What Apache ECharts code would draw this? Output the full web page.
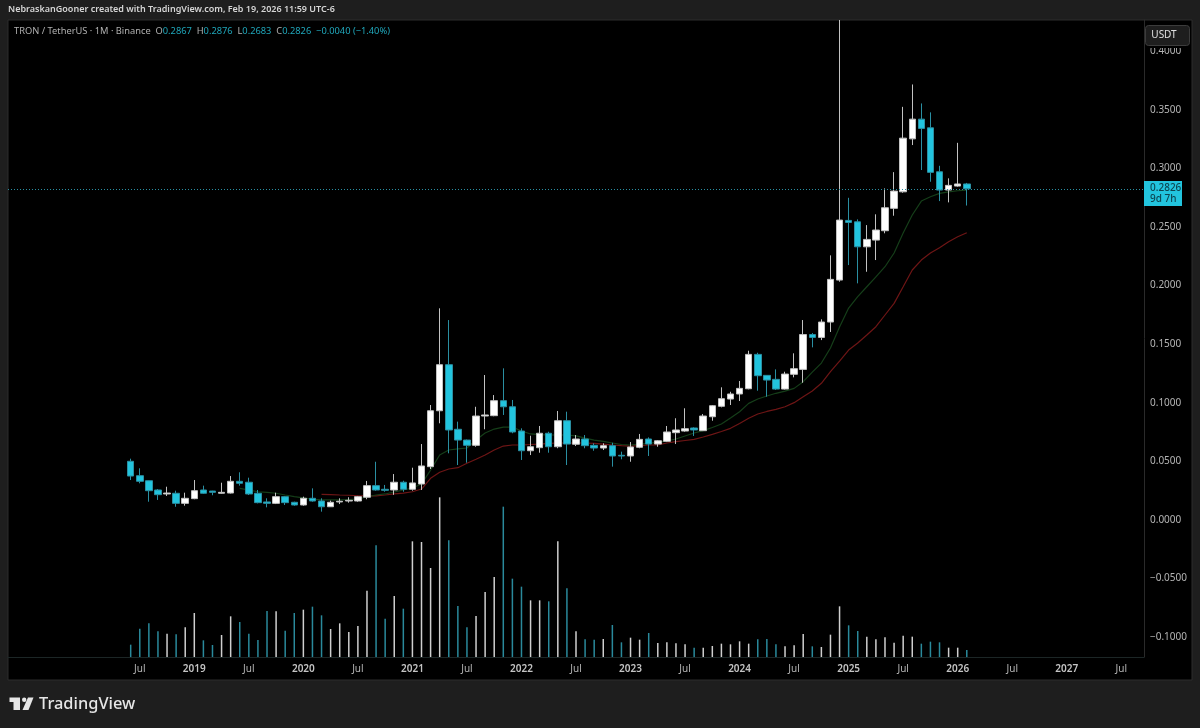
<!DOCTYPE html>
<html lang="en">
<head>
<meta charset="UTF-8">
<title>TRON / TetherUS 1M</title>
<style>
    * { margin: 0; padding: 0; }
    body { background: #1e1e1e; }
    #chart { width: 1200px; height: 728px; }
</style>
</head>
<body>
<div id="chart"></div>
<script src="https://cdn.jsdelivr.net/npm/echarts@6/dist/echarts.min.js"></script>
<script>
// monthly bars from Jun 2018 to Feb 2026: [open, close, low, high]
// the Dec 2024 high runs off the top of the pane, so it is read at the pane edge
const candles = [
    [.0501,.0375,.0341,.0523],[.0378,.0330,.0313,.0441],[.0335,.0250,.0156,.0337],[.0256,.0216,.0171,.0264],
    [.0222,.0230,.0205,.0284],[.0228,.0142,.0113,.0250],[.0142,.0185,.0122,.0233],[.0182,.0250,.0177,.0341],
    [.0256,.0228,.0222,.0293],[.0247,.0236,.0211,.0249],[.0228,.0236,.0224,.0318],[.0230,.0330,.0226,.0375],
    [.0330,.0313,.0293,.0407],[.0322,.0222,.0213,.0361],[.0228,.0148,.0142,.0256],[.0154,.0142,.0108,.0185],
    [.0142,.0199,.0136,.0233],[.0199,.0148,.0128,.0205],[.0151,.0128,.0122,.0156],[.0128,.0185,.0122,.0199],
    [.0185,.0162,.0156,.0270],[.0162,.0113,.0071,.0185],[.0113,.0151,.0111,.0165],[.0154,.0160,.0136,.0185],
    [.0162,.0168,.0148,.0194],[.0162,.0199,.0156,.0205],[.0194,.0293,.0177,.0333],[.0293,.0256,.0250,.0497],
    [.0262,.0253,.0241,.0299],[.0256,.0322,.0215,.0392],[.0322,.0262,.0241,.0335],[.0262,.0316,.0250,.0446],
    [.0307,.0461,.0256,.0648],[.0455,.0932,.0435,.0981],[.0932,.1325,.0825,.1806],[.1325,.0768,.0569,.1706],
    [.0774,.0682,.0469,.0839],[.0682,.0637,.0489,.0686],[.0637,.0887,.0625,.0966],[.0887,.0896,.0774,.1237],
    [.0890,.1018,.0885,.1066],[.1018,.0966,.0896,.1294],[.0966,.0751,.0740,.1024],[.0759,.0591,.0512,.0782],
    [.0591,.0625,.0554,.0719],[.0617,.0740,.0574,.0802],[.0740,.0625,.0574,.0753],[.0625,.0847,.0612,.0930],
    [.0847,.0648,.0469,.0924],[.0646,.0691,.0631,.0725],[.0691,.0634,.0612,.0725],[.0637,.0614,.0591,.0654],
    [.0614,.0634,.0597,.0654],[.0634,.0546,.0455,.0659],[.0552,.0546,.0518,.0583],[.0546,.0623,.0497,.0665],
    [.0620,.0688,.0612,.0734],[.0691,.0648,.0546,.0705],[.0648,.0676,.0625,.0682],[.0671,.0751,.0665,.0802],
    [.0745,.0768,.0648,.0868],[.0759,.0779,.0753,.0953],[.0785,.0768,.0717,.0791],[.0762,.0887,.0759,.0904],
    [.0881,.0975,.0847,.0981],[.0970,.1035,.0961,.1132],[.1032,.1075,.0981,.1094],[.1075,.1123,.1015,.1186],
    [.1120,.1413,.1115,.1444],[.1413,.1231,.1103,.1427],[.1234,.1194,.1052,.1237],[.1200,.1117,.1109,.1285],
    [.1117,.1245,.1113,.1265],[.1243,.1291,.1217,.1422],[.1285,.1582,.1171,.1706],[.1582,.1558,.1473,.1595],
    [.1558,.1689,.1535,.1712],[.1689,.2053,.1604,.2258],[.2047,.2559,.2033,.4266],[.2556,.2539,.2175,.2749],
    [.2544,.2331,.2019,.2565],[.2331,.2394,.2118,.2516],[.2388,.2474,.2218,.2608],[.2468,.2664,.2446,.2829],
    [.2659,.2806,.2596,.2968],[.2800,.3258,.2792,.3525],[.3252,.3420,.3199,.3716],[.3420,.3341,.2986,.3554],
    [.3346,.2966,.2886,.3478],[.2971,.2815,.2721,.3022],[.2815,.2855,.2710,.2915],[.2849,.2867,.2843,.3218],
    [.2867,.2826,.2683,.2876]
];

// relative volume per month, same order as candles
const volumes = [
    37,85,101,77,70,68,89,132,50,36,66,122,105,70,51,138,137,79,132,142,151,125,84,101,75,93,199,335,115,183,
    145,347,345,267,479,350,153,89,123,195,240,451,235,211,170,170,167,347,206,77,53,52,54,96,44,58,52,72,42,44,
    41,38,28,28,33,40,38,47,40,53,54,38,32,35,69,32,30,67,152,95,78,61,53,59,43,64,61,40,46,44,28,28,21
];

// moving averages, they begin later than the first candle
const maFastStart = 12;
const maFast = [
    .0270,.0256,.0241,.0235,.0228,.0213,.0199,.0188,.0177,.0171,.0171,.0171,.0175,.0179,.0196,.0213,.0222,.0239,.0256,.0273,
    .0307,.0426,.0554,.0597,.0606,.0614,.0682,.0742,.0776,.0793,.0793,.0759,.0734,.0729,.0725,.0725,.0725,.0717,.0699,.0682,
    .0670,.0657,.0644,.0640,.0648,.0653,.0665,.0674,.0691,.0717,.0742,.0762,.0789,.0819,.0870,.0924,.0995,.1032,.1058,.1081,
    .1100,.1123,.1180,.1262,.1339,.1467,.1646,.1808,.1905,.1990,.2075,.2161,.2278,.2448,.2602,.2721,.2758,.2787,.2800,.2809,.2815
];
const maSlowStart = 21;
const maSlow = [
    .0219,.0217,.0213,.0211,.0207,.0205,.0205,.0213,.0222,.0230,.0241,.0264,.0356,.0407,.0435,.0446,.0484,.0518,.0554,.0597,
    .0631,.0640,.0640,.0644,.0648,.0653,.0657,.0657,.0657,.0657,.0653,.0648,.0640,.0634,.0631,.0635,.0640,.0640,.0657,.0668,
    .0678,.0688,.0708,.0731,.0755,.0782,.0823,.0868,.0904,.0926,.0944,.0966,.1001,.1052,.1100,.1166,.1265,.1356,.1450,.1510,
    .1578,.1649,.1749,.1848,.1990,.2133,.2218,.2278,.2323,.2374,.2417,.2451
];

const priceTicks = [-0.1, -0.05, 0, 0.05, 0.1, 0.15, 0.2, 0.25, 0.3, 0.35, 0.4];
const lastPrice = 0.2826;

// time axis runs May 2017 to Sep 2027, the candles start at Jun 2018
const firstCandleIndex = 13;
const monthNames = [];
for (let y = 2017; y <= 2027; y++) {
    for (let m = 1; m <= 12; m++) {
        if ((y === 2017 && m < 5) || (y === 2027 && m > 9)) continue;
        monthNames.push(y + '-' + (m < 10 ? '0' + m : m));
    }
}

const upColor = '#ffffff';
const downColor = '#22c4de';
const upWick = '#c2c2c2';
const downWick = '#2a8fa2';
const pad = (n) => new Array(n).fill(null);

const candleData = candles.map((c, i) => [i + firstCandleIndex, c[0], c[1], c[2], c[3]]);
const volumeData = pad(firstCandleIndex).concat(volumes.map((v, i) => ({
    value: v,
    itemStyle: { color: candles[i][1] >= candles[i][0] ? '#cfcfcf' : '#2a8a9c' }
})));

const gridBox = { left: 8, right: 56, top: 20, bottom: 71 };
const font = '"Noto Sans", sans-serif';

const myChart = echarts.init(document.getElementById('chart'));
myChart.setOption({
    animation: false,
    backgroundColor: '#1e1e1e',
    grid: gridBox,
    xAxis: {
        type: 'category',
        data: monthNames,
        boundaryGap: true,
        axisLine: { onZero: false, lineStyle: { color: '#1c2626', width: 1 } },
        axisTick: { show: false },
        splitLine: { show: false },
        axisLabel: {
            color: '#b4b4b4',
            fontFamily: font,
            fontSize: 10,
            margin: 7,
            interval: (idx, name) => idx > firstCandleIndex && /-(01|07)$/.test(name),
            formatter: (name) => name.endsWith('-07') ? 'Jul' : '{year|' + name.slice(0, 4) + '}',
            rich: { year: { color: '#c4c4c4', fontFamily: font, fontSize: 10, fontWeight: 600 } }
        }
    },
    yAxis: [{
        type: 'value',
        position: 'right',
        min: -0.1169,
        max: 0.4266,
        axisLine: { show: true, lineStyle: { color: '#2a2a2a' } },
        axisTick: { show: false },
        splitLine: { show: false },
        axisLabel: {
            customValues: priceTicks,
            color: '#b4b4b4',
            fontFamily: font,
            fontSize: 10,
            margin: 6,
            formatter: (v) => v.toFixed(4).replace('-', '\u2212')
        }
    }, {
        // volume sits on its own hidden scale at the bottom of the pane
        type: 'value',
        min: 0,
        max: 1911,
        show: false
    }],
    series: [{
        name: 'Volume',
        type: 'bar',
        yAxisIndex: 1,
        barWidth: 1.5,
        z: 1,
        data: volumeData
    }, {
        name: 'MA slow',
        type: 'line',
        symbol: 'none',
        z: 1,
        lineStyle: { color: '#6e1515', width: 1.2 },
        // dotted line of the last price
        markLine: {
            silent: true,
            symbol: 'none',
            precision: 4,
            label: { show: false },
            lineStyle: { color: '#2a8fa2', type: [1, 2], width: 1 },
            data: [{ yAxis: lastPrice }]
        },
        data: pad(firstCandleIndex + maSlowStart).concat(maSlow)
    }, {
        name: 'MA fast',
        type: 'line',
        symbol: 'none',
        z: 1,
        lineStyle: { color: '#153e19', width: 1.2 },
        data: pad(firstCandleIndex + maFastStart).concat(maFast)
    }, {
        name: 'TRXUSDT',
        type: 'candlestick',
        barWidth: 7,
        z: 3,
        encode: { x: 0, y: [1, 2, 3, 4] },
        itemStyle: {
            color: upColor,
            color0: downColor,
            borderColor: upWick,
            borderColor0: downWick,
            borderWidth: 1
        },
        data: candleData
    }],
    graphic: [
        // panes behind the series
        { type: 'rect', z: -10, shape: { x: 8, y: 20, width: 1184, height: 660 },
          style: { fill: '#000000', stroke: '#2c2c2c', lineWidth: 1 } },

        // header line and symbol legend
        { type: 'text', z: 100, x: 8, y: 5,
          style: { text: 'NebraskanGooner created with TradingView.com, Feb 19, 2026 11:59 UTC-6',
                   fill: '#d6d6d6', font: '600 9px ' + font } },
        { type: 'text', z: 100, x: 14, y: 27,
          style: {
              text: '{a|TRON / TetherUS \u00b7 1M \u00b7 Binance  O}{b|0.2867}{a|  H}{b|0.2876}{a|  L}{b|0.2683}{a|  C}{b|0.2826}{b|  \u22120.0040 (\u22121.40%)}',
              rich: {
                  a: { fill: '#b0b0b0', font: '9.3px ' + font },
                  b: { fill: '#1fa6ba', font: '9.3px ' + font }
              }
          } },

        // currency button, it hides the top of the 0.4000 label
        { type: 'rect', z: 99, shape: { x: 1145, y: 21, width: 46, height: 27 }, style: { fill: '#000000' } },
        { type: 'rect', z: 100, shape: { x: 1145.5, y: 25.5, width: 44, height: 20, r: 3 },
          style: { fill: '#1e1e1e', stroke: '#3c3c3c', lineWidth: 1 } },
        { type: 'text', z: 101, x: 1164, y: 35.5,
          style: { text: 'USDT', fill: '#e0e0e0', font: '10px ' + font, align: 'center', verticalAlign: 'middle' } },

        // last price tag
        { type: 'rect', z: 100, shape: { x: 1144, y: 181, width: 38, height: 25 }, style: { fill: '#22c4de' } },
        { type: 'text', z: 101, x: 1150, y: 188,
          style: { text: '0.2826', fill: '#0d4652', font: '500 10px ' + font, verticalAlign: 'middle' } },
        { type: 'text', z: 101, x: 1150, y: 199.5,
          style: { text: '9d 7h', fill: '#0d4652', font: '500 10px ' + font, verticalAlign: 'middle' } },

        // TradingView logo
        { type: 'polygon', z: 100, shape: { points: [[9.5, 697.5], [20, 697.5], [20, 710], [13.5, 710], [13.5, 702], [9.5, 702]] },
          style: { fill: '#e6e6e6' } },
        { type: 'circle', z: 100, shape: { cx: 24.2, cy: 699.8, r: 2.2 }, style: { fill: '#e6e6e6' } },
        { type: 'polygon', z: 100, shape: { points: [[28, 697.5], [33.5, 697.5], [28.5, 710], [22.5, 710]] },
          style: { fill: '#e6e6e6' } },
        { type: 'text', z: 100, x: 39, y: 704,
          style: { text: 'TradingView', fill: '#e6e6e6', font: '500 16.4px ' + font, verticalAlign: 'middle' } }
    ]
});
</script>
</body>
</html>
